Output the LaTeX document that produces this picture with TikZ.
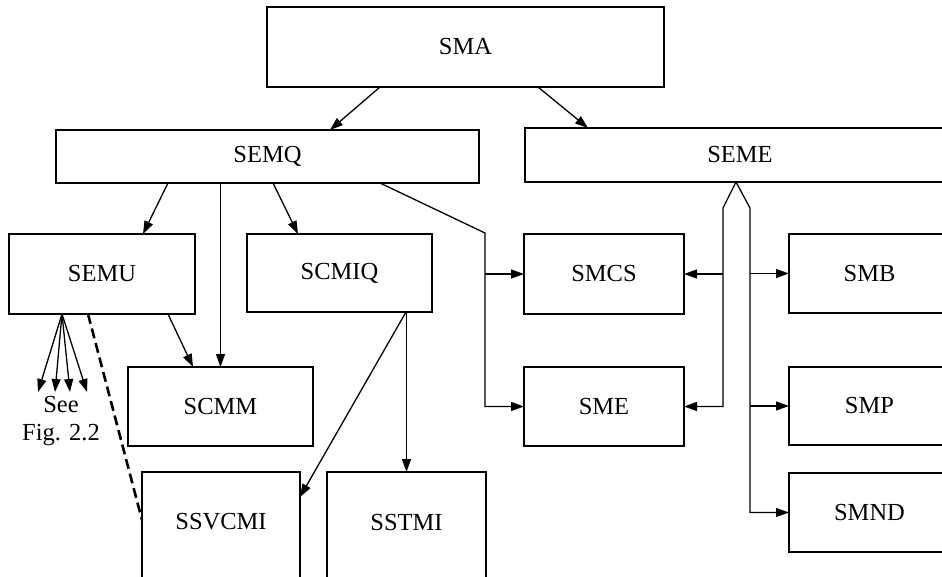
\documentclass[tikz,border=0pt]{standalone}
\usepackage{fontspec}
\setmainfont{Liberation Serif}
\usetikzlibrary{arrows.meta}
\begin{document}
\begin{tikzpicture}[x=1pt,y=-1pt,
  blk/.style={draw, line width=2.6pt, rectangle, inner sep=0pt, outer sep=0pt,
    font=\fontsize{24.5}{28}\selectfont},
  conn/.style={line width=1.3pt, -{Triangle[length=13pt,width=9pt]}},
  dashedlink/.style={line width=2.6pt, dash pattern=on 10pt off 5pt}]
\path[use as bounding box] (0,0) rectangle (942,576);
\clip (0,0) rectangle (942,576);

% boxes
\node[blk, minimum width=397pt, minimum height=80pt] (sma) at (465.5,47) {SMA};
\node[blk, minimum width=423pt, minimum height=53pt] (semq) at (267.5,156.5) {SEMQ};
\node[blk, minimum width=430pt, minimum height=54pt] (seme) at (740,155) {SEME};
\node[blk, minimum width=186pt, minimum height=80pt] (semu) at (102,274) {SEMU};
\node[blk, minimum width=185pt, minimum height=78pt] (scmiq) at (339.5,273) {SCMIQ};
\node[blk, minimum width=185pt, minimum height=79pt] (scmm) at (220.5,406.5) {SCMM};
\node[blk, minimum width=158pt, minimum height=148pt,
  label={[anchor=center,yshift=-50pt,font=\fontsize{24.5}{28}\selectfont]north:SSVCMI}] (ssvcmi) at (221,546) {};
\node[blk, minimum width=159pt, minimum height=148pt,
  label={[anchor=center,yshift=-50pt,font=\fontsize{24.5}{28}\selectfont]north:SSTMI}] (sstmi) at (406.5,546) {};
\node[blk, minimum width=160pt, minimum height=80pt] (smcs) at (604,274) {SMCS};
\node[blk, minimum width=160pt, minimum height=79pt] (sme) at (604,406.5) {SME};
\node[blk, minimum width=161pt, minimum height=79pt] (smb) at (869.5,273.5) {SMB};
\node[blk, minimum width=161pt, minimum height=78pt] (smp) at (869.5,406) {SMP};
\node[blk, minimum width=161pt, minimum height=79pt] (smnd) at (869.5,512.5) {SMND};

% note under SEMU
\node[align=center, font=\fontsize{24.5}{28}\selectfont, inner sep=0pt] (see) at (61,421) {See\\Fig. 2.2};

% SMA children
\draw[conn] ([xshift=-85.5pt]sma.south) -- ([xshift=62.5pt]semq.north);
\draw[conn] ([xshift=72.5pt]sma.south) -- ([xshift=-152pt]seme.north);

% SEMQ children
\draw[conn] ([xshift=-99.5pt]semq.south) -- ([xshift=41pt]semu.north);
\draw[conn] (semq.south -| scmm.north) -- (scmm.north);
\draw[conn] ([xshift=5.5pt]semq.south) -- ([xshift=-41.5pt]scmiq.north);
\coordinate (qbend) at (485,233);
\draw[conn] ([xshift=112.5pt]semq.south) -- (qbend) |- (sme.west);
\draw[conn] (qbend |- smcs.west) -- (smcs.west);

% SEMU links
\draw[conn] ([xshift=66pt]semu.south) -- ([xshift=-27.5pt]scmm.north);
\coordinate (fan) at ([xshift=-40pt]semu.south);
\coordinate (f1) at (38,392);
\coordinate (f2) at (55,392);
\coordinate (f3) at (70,392);
\coordinate (f4) at (87,392);
\foreach \f in {f1,f2,f3,f4} \draw[conn] (fan) -- (\f);
\draw[dashedlink] ([xshift=-14pt]semu.south) -- ([yshift=26pt]ssvcmi.west);

% SCMIQ links
\coordinate (qout) at ([xshift=66.5pt]scmiq.south);
\draw[conn] (qout) -- ([yshift=49pt]ssvcmi.east);
\draw[conn] (qout -| sstmi.north) -- (sstmi.north);

% SEME fork
\coordinate (eapex) at ([xshift=-4pt]seme.south);
\coordinate (eleft) at (723,208);
\coordinate (eright) at (750,208);
\draw[conn] (eapex) -- (eleft) |- (sme.east);
\draw[conn] (eleft |- smcs.east) -- (smcs.east);
\draw[conn] (eapex) -- (eright) |- (smnd.west);
\draw[conn] (eright |- smb.west) -- (smb.west);
\draw[conn] (eright |- smp.west) -- (smp.west);
\end{tikzpicture}
\end{document}
